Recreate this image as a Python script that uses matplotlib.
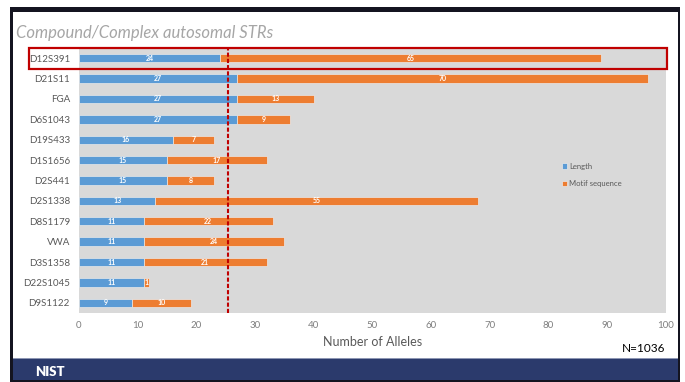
import numpy as np
import matplotlib.pyplot as plt
from matplotlib.patches import Rectangle

plt.rcParams['font.family'] = ['Lato', 'DejaVu Sans']

loci = ['D12S391', 'D21S11', 'FGA', 'D6S1043', 'D19S433', 'D1S1656', 'D2S441',
        'D2S1338', 'D8S1179', 'VWA', 'D3S1358', 'D22S1045', 'D9S1122']
length = [24, 27, 27, 27, 16, 15, 15, 13, 11, 11, 11, 11, 9]
motif = [65, 70, 13, 9, 7, 17, 8, 55, 22, 24, 21, 1, 10]
cutoff = 25.4
n_total = 1036

W, H = 685, 382
fig = plt.figure(figsize=(W / 100, H / 100), dpi=100)
fig.patch.set_facecolor('white')


def fx(x):
    return x / W


def fy(y):
    return (H - y) / H


def box(x0, y0, x1, y1, z=-5, **kw):
    # rectangle in pixel coords (top-left origin) on the figure
    r = Rectangle((fx(x0), fy(y1)), fx(x1) - fx(x0), fy(y0) - fy(y1),
                  transform=fig.transFigure, figure=fig, zorder=z, **kw)
    fig.patches.append(r)
    return r


# slide frame + footer bar
box(10, 7, 680, 382, facecolor='#141420', edgecolor='none')
box(13, 12, 677.5, 358, facecolor='white', edgecolor='none')
box(13, 358, 677.5, 380, facecolor='#2b3a6c', edgecolor='none')
box(13, 357.5, 677.5, 359, facecolor='#8d96b3', edgecolor='none')
fig.text(fx(35), fy(376.5), 'NIST', color='white', fontsize=9.5,
         fontweight='heavy', ha='left', va='baseline')

fig.text(fx(16), fy(38), 'Compound/Complex autosomal STRs', color='#a6a6a6',
         fontsize=12, style='italic', ha='left', va='baseline')

ax = fig.add_axes([fx(79), fy(313), fx(666) - fx(79), fy(48) - fy(313)])
ax.set_facecolor('#d9d9d9')
y = np.arange(len(loci))
b1 = ax.barh(y, length, height=0.41, color='#5b9bd5', edgecolor='#e9e9e9',
             linewidth=0.5, label='Length')
b2 = ax.barh(y, motif, left=length, height=0.41, color='#ed7d31',
             edgecolor='#e9e9e9', linewidth=0.5, label='Motif sequence')

for i in range(len(loci)):
    ax.text(length[i] / 2, y[i], str(length[i]), color='white', fontsize=5,
            fontweight='bold', ha='center', va='center')
    ax.text(length[i] + motif[i] / 2, y[i], str(motif[i]), color='white',
            fontsize=5, fontweight='bold', ha='center', va='center')

ax.axvline(cutoff, color='#c00000', lw=1.5, dashes=(2, 1))

ax.set_xlim(0, 100)
ax.set_ylim(len(loci) - 0.5, -0.5)
ax.set_xticks(range(0, 101, 10))
ax.set_yticks(y)
ax.set_yticklabels(loci)
ax.tick_params(axis='x', length=0, pad=6, labelsize=7, labelcolor='#7f7f7f')
ax.tick_params(axis='y', length=0, pad=6.5, labelsize=7, labelcolor='#595959')
for s in ax.spines.values():
    s.set_visible(False)

leg = ax.legend(handles=[b1, b2], loc='upper left',
                bbox_to_anchor=(fx(558), fy(159)), bbox_transform=fig.transFigure,
                frameon=False, fontsize=5.5, handlelength=0.7, handleheight=0.7,
                handletextpad=0.3, labelspacing=1.35, borderpad=0)
for t in leg.get_texts():
    t.set_color('#595959')

fig.text(fx(372.5), fy(346.5), 'Number of Alleles', color='#595959', fontsize=9,
         ha='center', va='baseline')
fig.text(fx(665), fy(351.5), 'N=' + str(n_total), color='black', fontsize=8.5,
         ha='right', va='baseline')

# highlight the first locus
box(29.3, 48.3, 666.7, 69.3, z=10, facecolor='none', edgecolor='#c00000', lw=1.6)

fig.savefig('out.png', dpi=100)
